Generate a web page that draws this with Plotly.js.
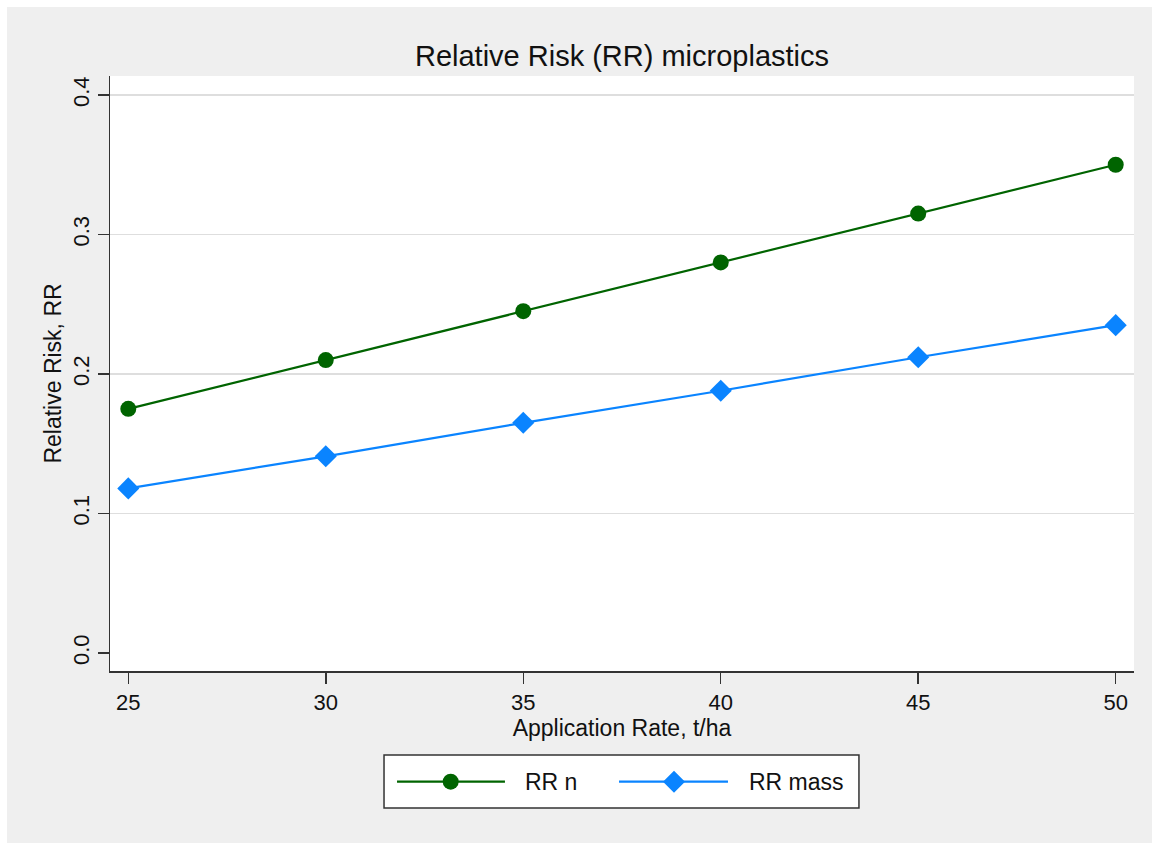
<!DOCTYPE html>
<html>
<head>
<meta charset="utf-8">
<script src="https://cdn.plot.ly/plotly-3.0.1.min.js"></script>
<style>
  html, body { margin: 0; padding: 0; background: #ffffff; }
  #chart { position: absolute; left: 7px; top: 7px; width: 1145px; height: 836px; }
</style>
</head>
<body>
<div id="chart"></div>
<script>
// ---- data ----
const applicationRate = [25, 30, 35, 40, 45, 50];
const rrN = [0.175, 0.210, 0.245, 0.280, 0.315, 0.350];
const rrMass = [0.118, 0.141, 0.165, 0.188, 0.212, 0.235];
const seriesNames = ["RR n", "RR mass"];
const xTicks = [25, 30, 35, 40, 45, 50];
const yTicks = [0.0, 0.1, 0.2, 0.3, 0.4];
const yGridTicks = [0.1, 0.2, 0.3, 0.4];

const green = "#006400";
const blue = "#0A84FF";
const FONT = "Arial, 'Liberation Sans', sans-serif";
const xRange = [24.537, 50.463];
const yRange = [-0.0129, 0.4136];

const traces = [
  {
    x: applicationRate, y: rrN, name: seriesNames[0], type: "scatter", mode: "lines+markers",
    line: { color: green, width: 2.2 },
    marker: { symbol: "circle", size: 16, color: green },
    showlegend: false
  },
  {
    x: applicationRate, y: rrMass, name: seriesNames[1], type: "scatter", mode: "lines+markers",
    line: { color: blue, width: 2.2 },
    marker: { symbol: "diamond", size: 17, color: blue },
    showlegend: false
  },
  // invisible trace to activate overlay axis for gridlines
  { x: [xRange[0]], y: [yRange[0]], yaxis: "y2", mode: "markers", marker: { opacity: 0 }, hoverinfo: "skip", showlegend: false }
];

// custom legend (Stata style, long sample lines)
const legY = -0.1860;
const legendItems = [
  { name: seriesNames[0], color: green, x0: 0.2803, x1: 0.3857, mx: 0.3327, tx: 0.4033, symbol: "circle" },
  { name: seriesNames[1], color: blue, x0: 0.4971, x1: 0.6035, mx: 0.5508, tx: 0.6221, symbol: "diamond" }
];
const shapes = [
  { type: "rect", xref: "paper", yref: "paper", x0: 0.2676, x1: 0.7314, y0: -0.1412, y1: -0.2303,
    line: { color: "#333333", width: 1.5 }, fillcolor: "#ffffff", layer: "above" }
];
const annotations = [];
legendItems.forEach(it => {
  shapes.push({ type: "line", xref: "paper", yref: "paper", x0: it.x0, x1: it.x1, y0: legY, y1: legY,
    line: { color: it.color, width: 2.2 }, layer: "above" });
  if (it.symbol === "circle") {
    shapes.push({ type: "circle", xref: "paper", yref: "paper", xsizemode: "pixel", ysizemode: "pixel",
      xanchor: it.mx, yanchor: legY, x0: -8, x1: 8, y0: -8, y1: 8,
      fillcolor: it.color, line: { color: it.color, width: 0 }, layer: "above" });
  } else {
    shapes.push({ type: "path", xref: "paper", yref: "paper", xsizemode: "pixel", ysizemode: "pixel",
      xanchor: it.mx, yanchor: legY, path: "M -11 0 L 0 11 L 11 0 L 0 -11 Z",
      fillcolor: it.color, line: { color: it.color, width: 0 }, layer: "above" });
  }
  annotations.push({ xref: "paper", yref: "paper", x: it.tx, y: legY, xanchor: "left", yanchor: "middle",
    text: it.name, showarrow: false, font: { family: FONT, size: 23, color: "#111111" } });
});

const layout = {
  width: 1145, height: 836,
  paper_bgcolor: "#efefef",
  plot_bgcolor: "#ffffff",
  margin: { l: 103, r: 18, t: 69, b: 172, pad: 0 },
  font: { family: FONT, color: "#111111" },
  title: {
    text: "Relative Risk (RR) microplastics",
    font: { family: FONT, size: 29, color: "#111111" },
    x: 0.5, xref: "paper", xanchor: "center",
    y: 0.941, yref: "container", yanchor: "middle"
  },
  xaxis: {
    range: xRange, tickvals: xTicks, ticktext: xTicks.map(String),
    showgrid: false, zeroline: false,
    showline: true, linecolor: "#333333", linewidth: 1.5,
    ticks: "outside", ticklen: 11, tickwidth: 1.5, tickcolor: "#333333",
    tickfont: { family: FONT, size: 22, color: "#111111" },
    title: { text: "Application Rate, t/ha", font: { family: FONT, size: 23, color: "#111111" }, standoff: 5 },
    automargin: false
  },
  yaxis: {
    range: yRange, tickvals: yTicks, ticktext: yTicks.map(v => v.toFixed(1)),
    showgrid: false, zeroline: false,
    showline: true, linecolor: "#333333", linewidth: 1.5,
    ticks: "outside", ticklen: 11, tickwidth: 1.5, tickcolor: "#333333",
    tickangle: -90,
    tickfont: { family: FONT, size: 22, color: "#111111" },
    title: { text: "Relative Risk, RR", font: { family: FONT, size: 23, color: "#111111" }, standoff: 0 },
    automargin: false
  },
  yaxis2: {
    overlaying: "y", range: yRange, tickvals: yGridTicks,
    showgrid: true, gridcolor: "#dedede", gridwidth: 1.5,
    showticklabels: false, ticks: "", showline: false, zeroline: false
  },
  shapes: shapes,
  annotations: annotations,
  showlegend: false
};

Plotly.newPlot("chart", traces, layout, { displayModeBar: false, staticPlot: true });
</script>
</body>
</html>
